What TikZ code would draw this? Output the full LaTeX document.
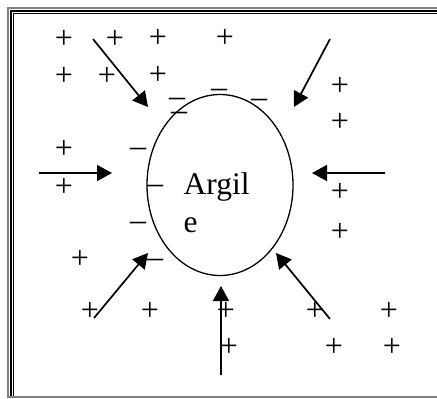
\documentclass[tikz,border=0pt]{standalone}
\usepackage{fontspec}
\setmainfont{Liberation Serif}
\usetikzlibrary{arrows.meta,shapes.geometric}
\tikzset{
  sym/.style={font=\fontsize{32}{38}\selectfont, inner sep=0pt, anchor=base},
  txt/.style={font=\fontsize{31.5}{38}\selectfont, inner sep=0pt, anchor=base west},
  push/.style={line width=1.7pt, -{Triangle[length=15pt,width=16pt]}},
  framegray/.style={draw=black!50, line width=1.6pt},
  frameblack/.style={draw=black, line width=1.1pt}
}
\newcommand{\pl}[3]{\node[sym] (#1) at (#2,#3+8) {+};}
\newcommand{\mn}[3]{\node[sym] (#1) at (#2,#3+7.5) {–};}
\begin{document}
\begin{tikzpicture}[x=1pt,y=-1pt]
\useasboundingbox (0,0) rectangle (437,399);
% frame
\draw[framegray] (437,8.2) -- (8.2,8.2) -- (8.2,397) -- (437,397);
\draw[frameblack] (437,11) -- (11,11) -- (11,396.2);
\draw[frameblack] (437,13.3) -- (13.3,13.3) -- (13.3,396.2);
% ellipse
\node[draw, line width=1.3pt, ellipse, minimum width=146pt, minimum height=181pt, inner sep=0pt] (clay) at (220,185) {};
\node[txt] (t1) at (183.5,194) {Argil};
\node[txt] (t2) at (183.5,232) {e};
% plus signs
\pl{p1}{64}{40} \pl{p2}{115}{40} \pl{p3}{158}{39} \pl{p4}{225}{39}
\pl{p5}{64}{77} \pl{p6}{107}{77} \pl{p7}{158}{76}
\pl{p8}{340}{87} \pl{p9}{340}{123}
\pl{p10}{64}{150} \pl{p11}{64}{188}
\pl{p12}{340}{193} \pl{p13}{340}{233}
\pl{p14}{80}{260}
\pl{p15}{90}{312} \pl{p16}{150}{312} \pl{p17}{226}{312} \pl{p18}{315}{312} \pl{p19}{389}{312}
\pl{p20}{229}{348} \pl{p21}{334}{348} \pl{p22}{392}{348}
% minus signs
\mn{m1}{177}{99} \mn{m2}{179}{113} \mn{m3}{219}{90} \mn{m4}{259}{100}
\mn{m5}{138}{149} \mn{m6}{155}{186} \mn{m7}{138}{223} \mn{m8}{155}{260}
% arrows
\coordinate (a1s) at (93,39);   \coordinate (a1e) at (148,107);
\coordinate (a2s) at (330,39);  \coordinate (a2e) at (294,107);
\coordinate (a3s) at (39,173);  \coordinate (a3e) at (112,173);
\coordinate (a4s) at (385,173); \coordinate (a4e) at (312,173);
\coordinate (a5s) at (94,318);  \coordinate (a5e) at (148,253);
\coordinate (a6s) at (221,375); \coordinate (a6e) at (221,286);
\coordinate (a7s) at (330,319); \coordinate (a7e) at (276,253);
\foreach \i in {1,...,7} { \draw[push] (a\i s) -- (a\i e); }
\end{tikzpicture}
\end{document}
